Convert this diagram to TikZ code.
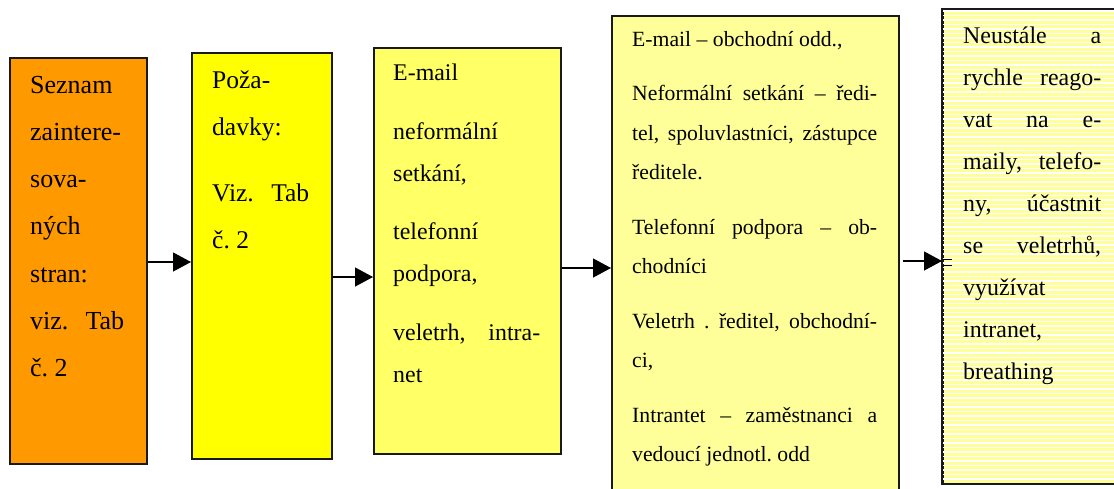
\documentclass[tikz,border=0pt]{standalone}
\usepackage{fontspec}
\setmainfont{Liberation Serif}
\usetikzlibrary{arrows.meta}
\definecolor{cOrange}{HTML}{FF9900}
\definecolor{cYellow}{HTML}{FFFF00}
\definecolor{cLight}{HTML}{FFFF66}
\definecolor{cPale}{HTML}{FFFF99}
\newcommand\jl[1]{\makebox[\linewidth][s]{#1}}
\tikzset{
  box/.style={draw=black!90, line width=1.5pt, inner sep=0pt, anchor=north west},
  txt/.style={anchor=base west, inner sep=0pt, font=\frenchspacing},
  arr/.style={draw=black, line width=1.2pt, -{Triangle[length=18pt,width=19pt]}},
}
\begin{document}
\frenchspacing
\begin{tikzpicture}[x=1pt,y=-1pt]
\useasboundingbox (0,0) rectangle (1114,488);
% boxes
\node[box, fill=cOrange, minimum width=137pt, minimum height=406pt] (b1) at (9,57) {};
\node[box, fill=cYellow, minimum width=140pt, minimum height=406pt] (b2) at (191,52) {};
\node[box, fill=cLight, minimum width=187pt, minimum height=406pt] (b3) at (373,47) {};
\node[box, fill=cPale, minimum width=287pt, minimum height=480pt] (b4) at (611,15) {};
\node[box, fill=cPale, minimum width=183pt, minimum height=474pt] (b5) at (942,9) {};
\begin{scope}
  \clip (b5.north west) rectangle (b5.south east);
  \foreach \yy in {11,15.5,...,483} \draw[white, line width=1.4pt] (942,\yy) -- (1125,\yy);
\end{scope}
\draw[black!90, line width=1.5pt] (b5.north west) rectangle (b5.south east);
% texts
\node[txt] (t1) at (30,93) {\parbox[t]{94pt}{\fontsize{26}{47.3}\selectfont\frenchspacing
  Seznam\\ zaintere-\\ sova-\\ ných\\ stran:\\ \jl{viz. Tab}\\ č. 2}};
\node[txt] (t2) at (212,88) {\parbox[t]{97pt}{\fontsize{25.5}{47}\selectfont\frenchspacing
  Poža-\\ davky:\\[19pt] \jl{Viz. Tab}\\ č. 2}};
\node[txt] (t3) at (393,80) {\parbox[t]{147pt}{\fontsize{23.9}{42}\selectfont\frenchspacing
  E-mail\\[17pt] neformální\\ setkání,\\[16pt] telefonní\\ podpora,\\[17pt] \jl{veletrh, intra-}\\ net}};
\node[txt] (t4) at (632,46) {\parbox[t]{245pt}{\fontsize{21.7}{39.5}\selectfont\frenchspacing
  E-mail – obchodní odd.,\\[15pt] \jl{Neformální setkání – ředi-}\\ \jl{tel, spoluvlastníci, zástupce}\\ ředitele.\\[15pt]
  \jl{Telefonní podpora – ob-}\\ chodníci\\[15pt] \jl{Veletrh . ředitel, obchodní-}\\ ci,\\[15pt]
  \jl{Intrantet – zaměstnanci a}\\ vedoucí jednotl. odd}};
\node[txt] (t5) at (963,43) {\parbox[t]{138pt}{\fontsize{23.9}{42.1}\selectfont\frenchspacing
  \jl{Neustále a}\\ \jl{rychle reago-}\\ \jl{vat na e-}\\ \jl{maily, telefo-}\\ \jl{ny, účastnit}\\ \jl{se veletrhů,}\\ využívat\\ intranet,\\ breathing}};
% arrows
\draw[arr] (b1.east |- 0,262) -- (b2.west |- 0,262);
\draw[arr] (b2.east |- 0,277) -- (b3.west |- 0,277);
\draw[arr] (b3.east |- 0,268) -- (b4.west |- 0,268);
\draw[arr] ([xshift=3pt]b4.east |- 0,261) -- (b5.west |- 0,261);
\draw[black, line width=0.8pt] ([xshift=1pt]b5.west |- 0,259) -- ([xshift=10pt]b5.west |- 0,259);
\draw[black, line width=0.8pt] ([xshift=1pt]b5.west |- 0,265) -- ([xshift=10pt]b5.west |- 0,265);
\end{tikzpicture}
\end{document}
